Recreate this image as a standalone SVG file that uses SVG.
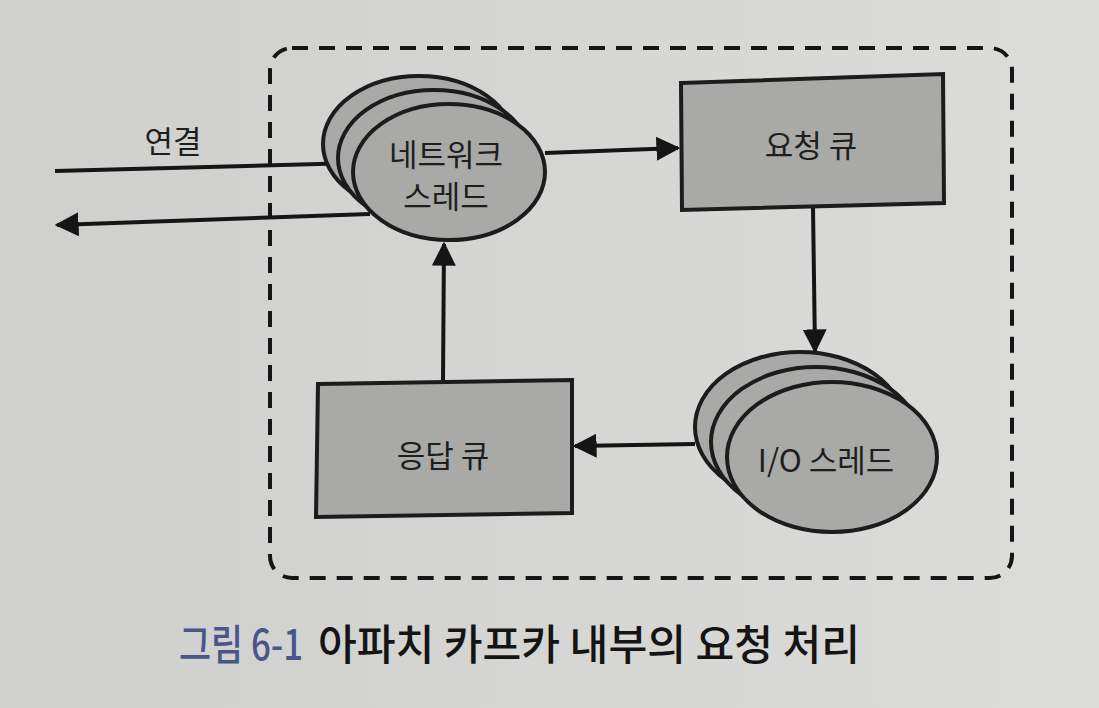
<svg xmlns="http://www.w3.org/2000/svg" width="1099" height="708" viewBox="0 0 1099 708">
<style>
.node{fill:#a9a9a8;stroke:#1c1c1c;stroke-width:4}
.lbl{font-family:"Noto Sans CJK KR","Noto Sans",sans-serif;font-size:31px;fill:#1e1e1e;text-anchor:middle}
.edge{stroke:#151515;stroke-width:4;fill:none}
.cap{font-family:"Noto Sans CJK KR",sans-serif;font-size:42px;font-weight:500}
</style>
<defs>
<marker id="ah" viewBox="0 0 10 10" refX="9" refY="5" markerWidth="6" markerHeight="6" markerUnits="strokeWidth" orient="auto">
<path d="M0,0 L10,5 L0,10 Z" fill="#151515"/>
</marker>
<linearGradient id="bg" x1="0" y1="0" x2="1" y2="0">
<stop offset="0" stop-color="#cfcfcd"/>
<stop offset="1" stop-color="#dcdcda"/>
</linearGradient>
</defs>
<rect width="1099" height="708" fill="url(#bg)"/>
<rect id="boundary" x="270" y="48" width="742" height="530" rx="22" fill="none" stroke="#151515" stroke-width="4" stroke-dasharray="16 11"/>
<g id="connectors">
<line class="edge" x1="55" y1="171" x2="355" y2="163"/>
<line class="edge" x1="370" y1="214" x2="57" y2="225" marker-end="url(#ah)"/>
<line class="edge" x1="545" y1="153" x2="678" y2="148" marker-end="url(#ah)"/>
<line class="edge" x1="813" y1="207" x2="815" y2="351" marker-end="url(#ah)"/>
<line class="edge" x1="695" y1="444" x2="575" y2="446" marker-end="url(#ah)"/>
<line class="edge" x1="443" y1="382" x2="444" y2="244" marker-end="url(#ah)"/>
</g>
<text id="conn-label" class="lbl" x="173" y="153" font-size="27">연결</text>
<g id="network-thread">
<ellipse class="node" cx="419" cy="144" rx="96" ry="68"/>
<ellipse class="node" cx="434" cy="158" rx="96" ry="68"/>
<ellipse class="node" cx="449" cy="172" rx="96" ry="68"/>
<text class="lbl" x="446" y="166" font-size="29">네트워크</text>
<text class="lbl" x="446" y="208" font-size="29">스레드</text>
</g>
<g id="request-queue">
<polygon class="node" points="681,83 943,74 944,203 682,210"/>
<text class="lbl" x="811" y="157" font-size="33">요청 큐</text>
</g>
<g id="io-thread">
<ellipse class="node" cx="800" cy="427" rx="105" ry="75"/>
<ellipse class="node" cx="816" cy="442" rx="105" ry="75"/>
<ellipse class="node" cx="832" cy="457" rx="105" ry="75"/>
<text class="lbl" x="826" y="472" font-size="34">I/O 스레드</text>
</g>
<g id="response-queue">
<polygon class="node" points="318,384 572,380 572,513 316,517"/>
<text class="lbl" x="443" y="467" font-size="33">응답 큐</text>
</g>
<text id="caption-num" class="cap" x="179" y="660" fill="#4a5689" font-weight="700" textLength="124" lengthAdjust="spacingAndGlyphs">그림 6-1</text>
<text id="caption" class="cap" x="318" y="660" fill="#141414" textLength="542" lengthAdjust="spacingAndGlyphs">아파치 카프카 내부의 요청 처리</text>
</svg>
